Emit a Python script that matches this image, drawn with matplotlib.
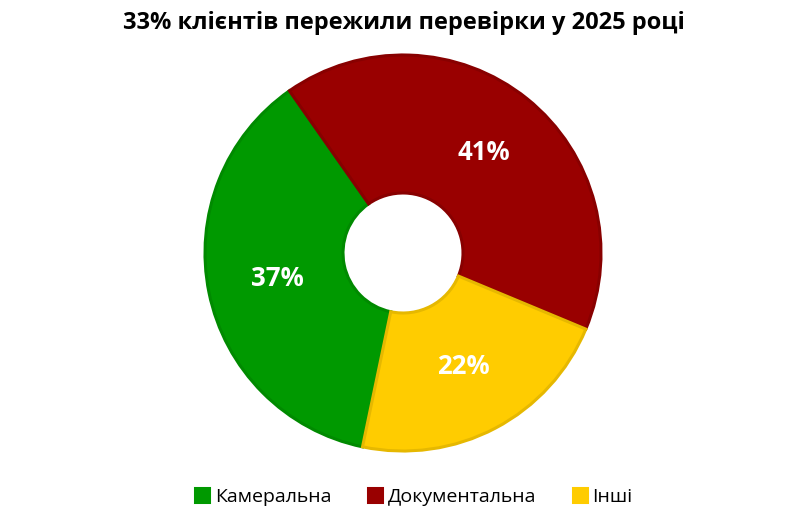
import matplotlib.pyplot as plt

# Дані
categories = ['Камеральна', 'Документальна', 'Інші']
values = [37, 41, 22]
colors = ['#009900', '#990000', '#FFCC00']
edge_colors = ['#008A00', '#880000', '#E6B800']
title = '33% клієнтів пережили перевірки у 2025 році'

plt.rcParams['font.family'] = ['Open Sans', 'DejaVu Sans']

fig = plt.figure(figsize=(8.08, 5.23), dpi=100)
# вісь пирога: центр (403, 253) px, радіус 200 px
ax = fig.add_axes([(403 - 200) / 808, (523 - 253 - 200) / 523, 400 / 808, 400 / 523])

wedges, texts, autotexts = ax.pie(
    values, colors=colors, startangle=258.2, counterclock=False,
    autopct='%d%%', pctdistance=0.65, radius=0.99,
    wedgeprops=dict(width=0.69, linewidth=2.2),
    textprops=dict(color='white', fontsize=18.5, fontweight='bold'))
for w, ec in zip(wedges, edge_colors):
    w.set_edgecolor(ec)

ax.set_xlim(-1, 1)
ax.set_ylim(-1, 1)
ax.set_aspect('equal')
ax.axis('off')

fig.text(0.5, 1 - 23 / 523, title, ha='center', va='center',
         fontsize=17, fontweight='bold', color='black')

leg = fig.legend(wedges, categories, loc='center', bbox_to_anchor=(414 / 808, 1 - 497 / 523),
                 ncol=3, frameon=False, fontsize=14, handlelength=0.7, handleheight=0.7,
                 handletextpad=0.3, columnspacing=1.9)
for h, c in zip(leg.legend_handles, colors):
    h.set_edgecolor(c)

fig.savefig('out.png', dpi=100)
